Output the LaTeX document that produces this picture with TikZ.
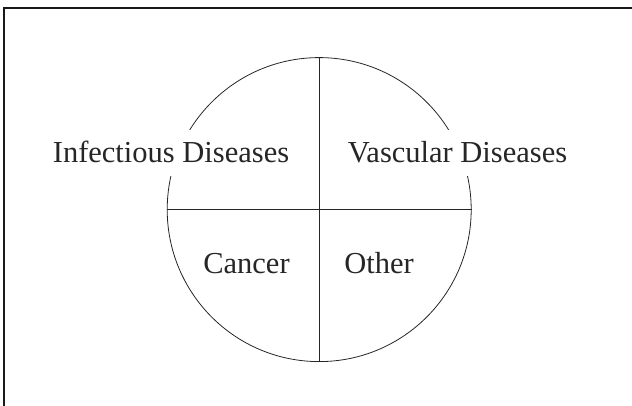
\documentclass[tikz,border=0pt]{standalone}
\usepackage{fontspec}
\setmainfont{Liberation Serif}
\begin{document}
\begin{tikzpicture}[x=1pt,y=-1pt,
  lbl/.style={font=\fontsize{30.5}{36}\selectfont, text=black!85, anchor=base, inner sep=0pt},
  cutlbl/.style={lbl, fill=white, text height=21pt, text depth=1pt, inner ysep=12pt, inner xsep=5pt},
  ring/.style={draw=black!85, line width=0.8pt}]
\useasboundingbox (0,0) rectangle (632,406);
\coordinate (bl) at (4,406);
\coordinate (tl) at (4,8);
\coordinate (tr) at (632,8);
\draw[line width=1.1pt, black!90] (bl) -- (tl) -- (tr);
\node (c) [circle, ring, minimum size=304pt, inner sep=0pt] at (319.2,209.6) {};
\draw[ring] (c.north) -- (c.south);
\draw[ring] (c.west) -- (c.east);
\node (inf) [cutlbl] at (171,163) {Infectious Diseases};
\node (vas) [cutlbl] at (457.5,163) {Vascular Diseases};
\node (can) [lbl] at (246.5,273) {Cancer};
\node (oth) [lbl] at (379,273) {Other};
\end{tikzpicture}
\end{document}
